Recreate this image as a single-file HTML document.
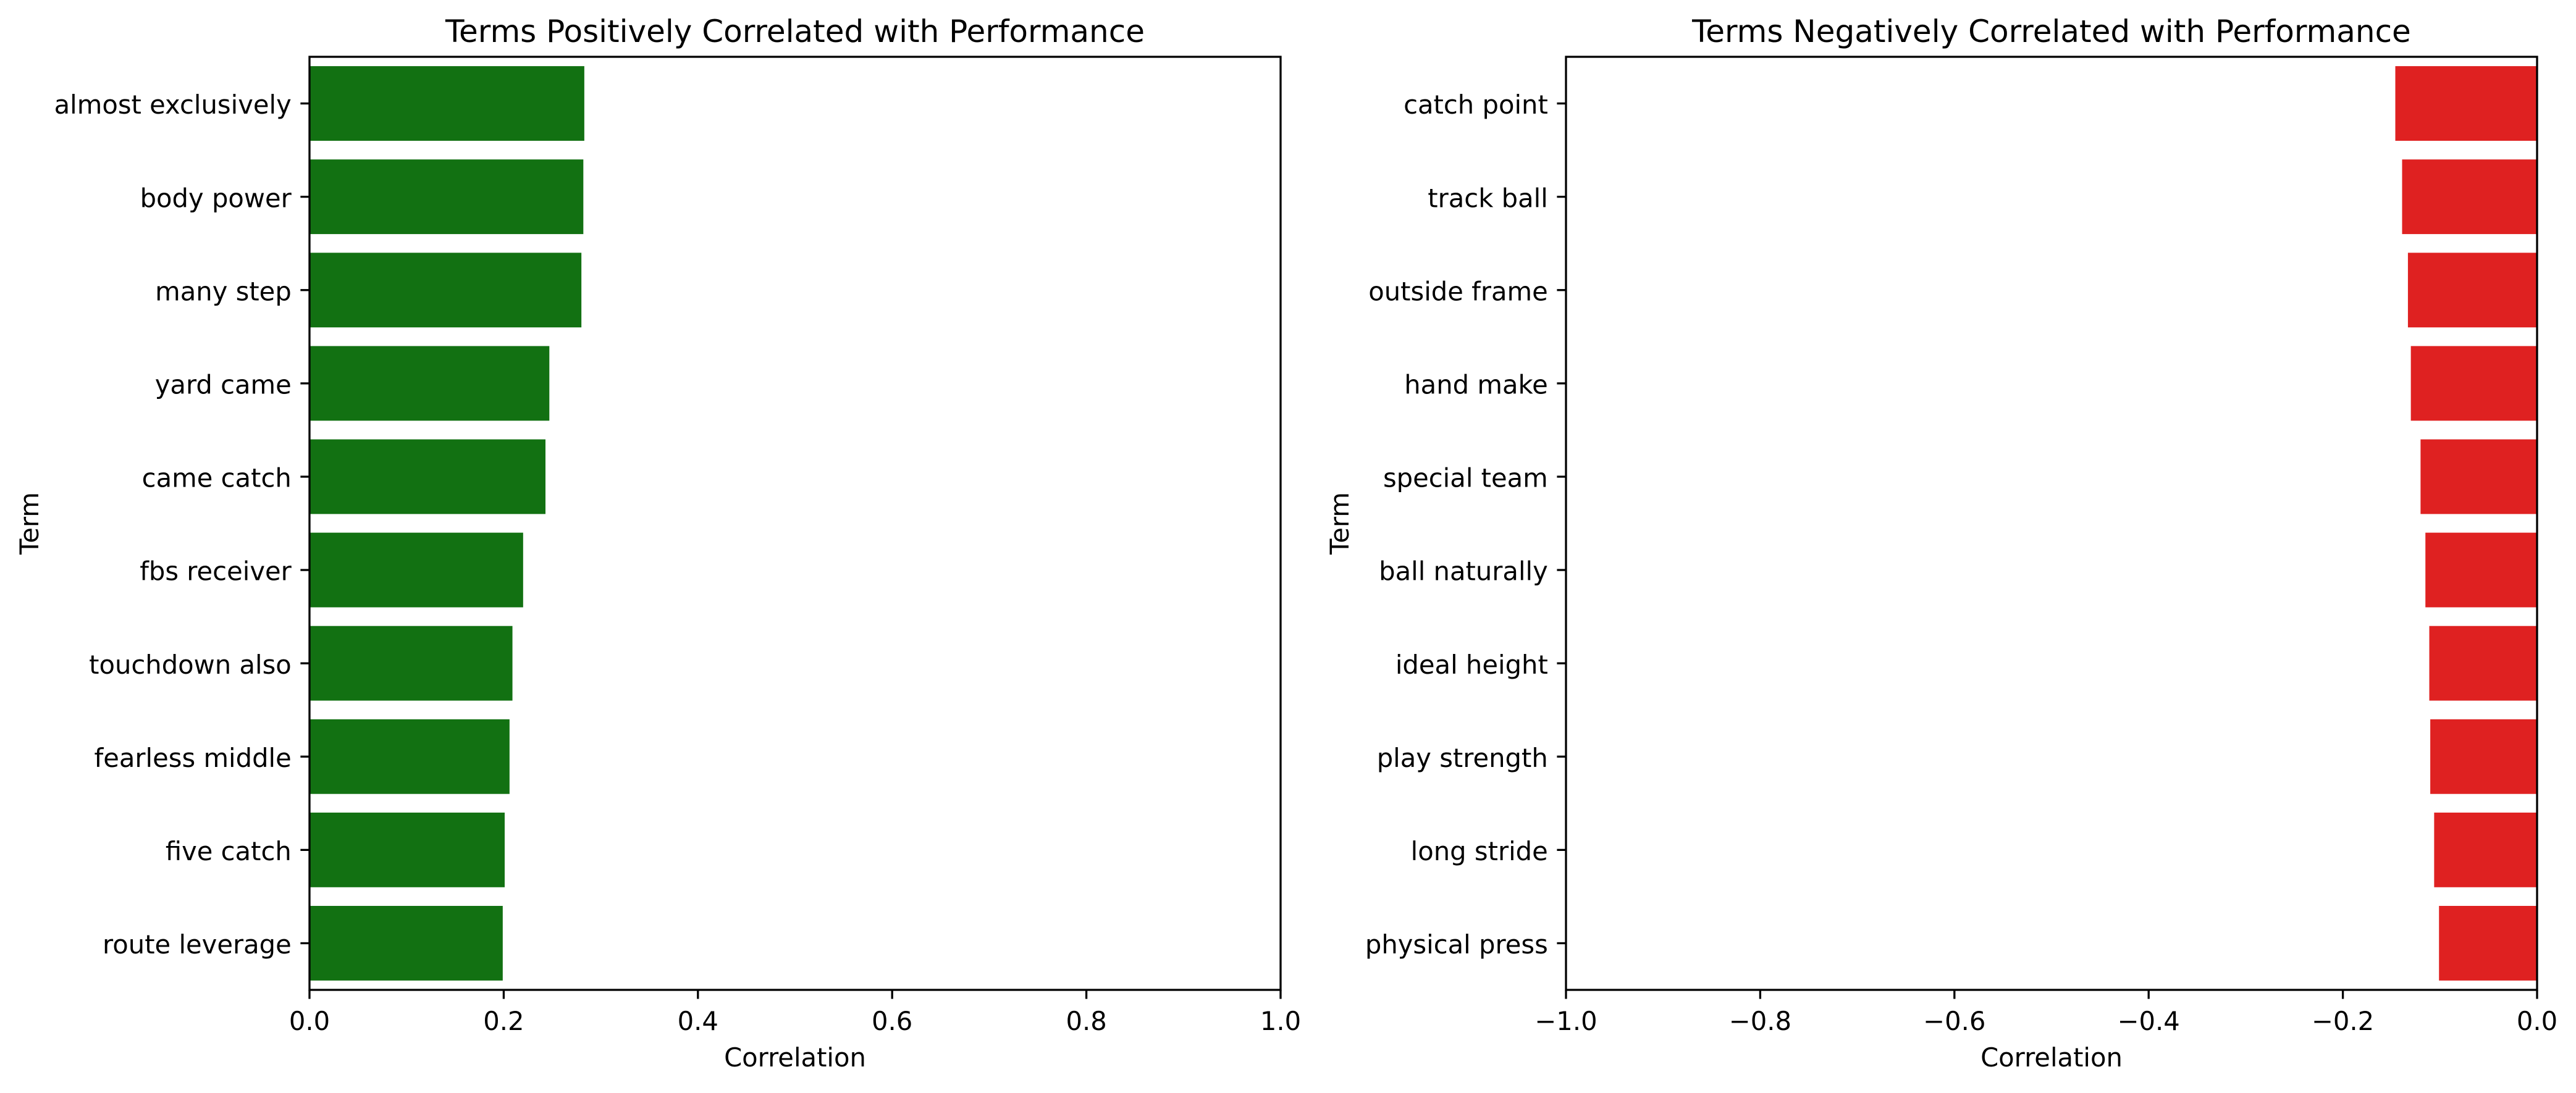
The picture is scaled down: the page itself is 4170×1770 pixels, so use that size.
<!DOCTYPE html>
<html><head><meta charset="utf-8"><style>
html,body{margin:0;padding:0;background:#fff;}
svg text{font-family:"DejaVu Sans","Liberation Sans",sans-serif;fill:#000;}
</style></head><body>
<svg id="fig" xmlns="http://www.w3.org/2000/svg" width="4170" height="1765" viewBox="0 0 4170 1765">
<rect width="4170" height="1765" fill="#fff"/>
</svg>
<script>
const posTerms = ["almost exclusively","body power","many step","yard came","came catch","fbs receiver","touchdown also","fearless middle","five catch","route leverage"];
const posValues = [0.283,0.282,0.280,0.247,0.243,0.220,0.209,0.206,0.201,0.199];
const negTerms = ["catch point","track ball","outside frame","hand make","special team","ball naturally","ideal height","play strength","long stride","physical press"];
const negValues = [-0.146,-0.139,-0.133,-0.130,-0.120,-0.115,-0.111,-0.110,-0.106,-0.101];
const posTicks = [0.0,0.2,0.4,0.6,0.8,1.0];
const posTickLabels = ["0.0","0.2","0.4","0.6","0.8","1.0"];
const negTicks = [-1.0,-0.8,-0.6,-0.4,-0.2,0.0];
const negTickLabels = ["\u22121.0","\u22120.8","\u22120.6","\u22120.4","\u22120.2","0.0"];

const NS = "http://www.w3.org/2000/svg";
const svg = document.getElementById('fig');
function mk(tag, attrs, parent){
  const e = document.createElementNS(NS, tag);
  for (const k in attrs) e.setAttribute(k, attrs[k]);
  (parent||svg).appendChild(e);
  return e;
}
const TOP = 92, BOT = 1603, FS = 41.7, TICK = 14.6, LW = 3.3;

function panel(name, x0, x1, xmin, xmax, terms, values, ticks, tickLabels, color, title, ylabX){
  const g = mk('g', {});
  
  
  const xs = v => x0 + (v - xmin) / (xmax - xmin) * (x1 - x0);
  const step = (BOT - TOP) / terms.length;
  const yc = i => TOP + step * (i + 0.5);
  terms.forEach((t, i) => {
    const a = xs(0), b = xs(values[i]);
    const r = mk('rect', {x: Math.min(a,b), y: yc(i) - step*0.4, width: Math.abs(b-a), height: step*0.8, fill: color}, g);
    
    
    mk('line', {x1: x0 - TICK, x2: x0, y1: yc(i), y2: yc(i), stroke: '#000', 'stroke-width': LW}, g);
    const tx = mk('text', {x: x0 - TICK - 14.6, y: yc(i) + FS*0.40, 'font-size': FS, 'text-anchor': 'end'}, g);
    tx.textContent = t;
    
    
  });
  ticks.forEach((v, i) => {
    const x = xs(v);
    mk('line', {x1: x, x2: x, y1: BOT, y2: BOT + TICK, stroke: '#000', 'stroke-width': LW}, g);
    const tx = mk('text', {x: x, y: 1668, 'font-size': FS, 'text-anchor': 'middle'}, g);
    tx.textContent = tickLabels[i];
    
    
  });
  const fr = mk('rect', {x: x0, y: TOP, width: x1 - x0, height: BOT - TOP, fill: 'none', stroke: '#000', 'stroke-width': LW}, g);
  
  
  const tt = mk('text', {x: (x0 + x1)/2, y: 68, 'font-size': 50, 'text-anchor': 'middle'}, g);
  tt.textContent = title;
  
  
  const xl = mk('text', {x: (x0 + x1)/2, y: 1727, 'font-size': FS, 'text-anchor': 'middle'}, g);
  xl.textContent = 'Correlation';
  
  
  const cy = (TOP + BOT)/2;
  const yl = mk('text', {x: ylabX, y: cy, 'font-size': FS, 'text-anchor': 'middle', transform: 'rotate(-90 ' + ylabX + ' ' + cy + ')'}, g);
  yl.textContent = 'Term';
  
  
}
panel('positive-panel', 501, 2073, 0, 1, posTerms, posValues, posTicks, posTickLabels, '#127112', 'Terms Positively Correlated with Performance', 62);
panel('negative-panel', 2535, 4107, -1, 0, negTerms, negValues, negTicks, negTickLabels, '#df2121', 'Terms Negatively Correlated with Performance', 2183);
</script>
</body></html>
